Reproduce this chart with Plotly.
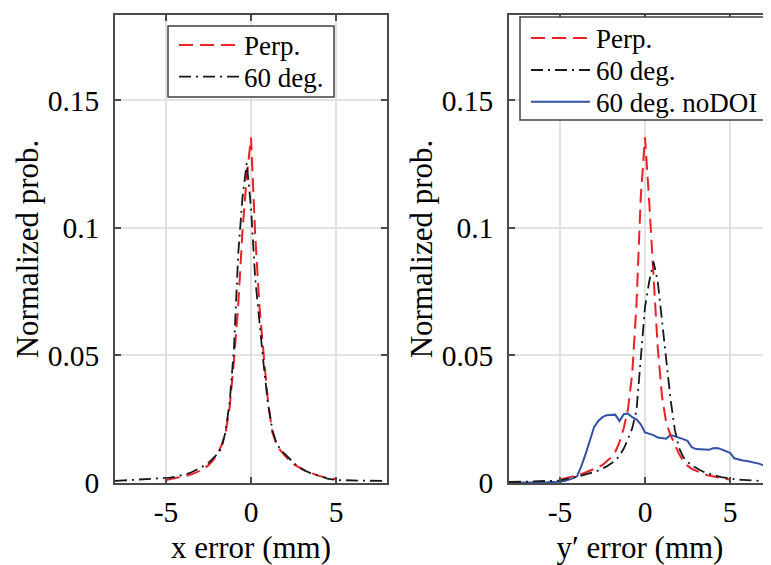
import plotly.graph_objects as go

# ---------------- data ----------------
X_FULL = [-8.0, -7.75, -7.5, -7.25, -7.0, -6.75, -6.5, -6.25, -6.0, -5.75, -5.5, -5.25,
          -5.0, -4.75, -4.5, -4.25, -4.0, -3.75, -3.5, -3.25, -3.0, -2.75, -2.5, -2.25,
          -2.0, -1.75, -1.5, -1.25, -1.0, -0.75, -0.5, -0.25, 0.0, 0.25, 0.5, 0.75,
          1.0, 1.25, 1.5, 1.75, 2.0, 2.25, 2.5, 2.75, 3.0, 3.25, 3.5, 3.75,
          4.0, 4.25, 4.5, 4.75, 5.0, 5.25, 5.5, 5.75, 6.0, 6.25, 6.5, 6.75,
          7.0, 7.25, 7.5, 7.75, 8.0]
X_PERP = [-5.0, -4.75, -4.5, -4.25, -4.0, -3.75, -3.5, -3.25, -3.0, -2.75, -2.5, -2.25,
          -2.0, -1.75, -1.5, -1.25, -1.0, -0.75, -0.5, -0.25, 0.0, 0.25, 0.5, 0.75,
          1.0, 1.25, 1.5, 1.75, 2.0, 2.25, 2.5, 2.75, 3.0, 3.25, 3.5, 3.75,
          4.0, 4.25, 4.5, 4.75, 5.0]

# Left panel: x error
PERP_X_ERR = [0.0012, 0.0015, 0.0018, 0.0021, 0.0025, 0.0029, 0.0034, 0.0040, 0.0048, 0.0057,
              0.0070, 0.0087, 0.0110, 0.0145, 0.0195, 0.0300, 0.0480, 0.0700, 0.0990, 0.1200,
              0.1355, 0.0970, 0.0690, 0.0500, 0.0320, 0.0200, 0.0152, 0.0126, 0.0106, 0.0088,
              0.0074, 0.0063, 0.0054, 0.0046, 0.0039, 0.0033, 0.0028, 0.0024, 0.0020, 0.0017,
              0.0015]
DEG60_X_ERR = [0.0008, 0.0009, 0.0009, 0.0010, 0.0010, 0.0011, 0.0012, 0.0013, 0.0014, 0.0015,
               0.0016, 0.0017, 0.0019, 0.0021, 0.0024, 0.0027, 0.0031, 0.0036, 0.0042, 0.0050,
               0.0058, 0.0068, 0.0079, 0.0094, 0.0112, 0.0135, 0.0200, 0.0320, 0.0530, 0.0900,
               0.1120, 0.1255, 0.1080, 0.0800, 0.0620, 0.0460, 0.0310, 0.0210, 0.0155, 0.0130,
               0.0113, 0.0095, 0.0080, 0.0065, 0.0055, 0.0046, 0.0039, 0.0033, 0.0027, 0.0021,
               0.0017, 0.0014, 0.0012, 0.0011, 0.0011, 0.0010, 0.0010, 0.0010, 0.0009, 0.0009,
               0.0009, 0.0008, 0.0008, 0.0008, 0.0008]

# Right panel: y' error
PERP_Y_ERR = [0.0013, 0.0017, 0.0021, 0.0025, 0.0030, 0.0035, 0.0041, 0.0047, 0.0054, 0.0062,
              0.0071, 0.0084, 0.0100, 0.0122, 0.0160, 0.0215, 0.0290, 0.0430, 0.0700, 0.1120,
              0.1355, 0.1100, 0.0830, 0.0530, 0.0340, 0.0235, 0.0188, 0.0150, 0.0115, 0.0086,
              0.0068, 0.0055, 0.0047, 0.0040, 0.0034, 0.0029, 0.0025, 0.0022, 0.0019, 0.0016,
              0.0014]
DEG60_Y_ERR = [0.0004, 0.0004, 0.0005, 0.0005, 0.0005, 0.0006, 0.0006, 0.0007, 0.0007, 0.0008,
               0.0008, 0.0009, 0.0010, 0.0013, 0.0016, 0.0020, 0.0025, 0.0029, 0.0033, 0.0038,
               0.0043, 0.0049, 0.0056, 0.0065, 0.0076, 0.0088, 0.0107, 0.0135, 0.0172, 0.0215,
               0.0285, 0.0490, 0.0690, 0.0790, 0.0868, 0.0790, 0.0640, 0.0480, 0.0330, 0.0210,
               0.0138, 0.0102, 0.0083, 0.0069, 0.0058, 0.0050, 0.0042, 0.0036, 0.0031, 0.0027,
               0.0023, 0.0020, 0.0017, 0.0015, 0.0013, 0.0012, 0.0011, 0.0010, 0.0009, 0.0008,
               0.0007, 0.0006, 0.0005, 0.0005, 0.0004]
NODOI_Y_ERR = [0.0001, 0.0001, 0.0001, 0.0001, 0.0002, 0.0002, 0.0002, 0.0002, 0.0003, 0.0003,
               0.0004, 0.0004, 0.0005, 0.0008, 0.0012, 0.0018, 0.0026, 0.0065, 0.0112, 0.0168,
               0.0218, 0.0243, 0.0258, 0.0266, 0.0267, 0.0268, 0.0243, 0.0270, 0.0272, 0.0258,
               0.0250, 0.0230, 0.0198, 0.0192, 0.0188, 0.0178, 0.0175, 0.0174, 0.0189, 0.0184,
               0.0180, 0.0172, 0.0165, 0.0140, 0.0133, 0.0132, 0.0131, 0.0130, 0.0136, 0.0137,
               0.0132, 0.0126, 0.0118, 0.0097, 0.0091, 0.0088, 0.0086, 0.0083, 0.0080, 0.0075,
               0.0068, 0.0058, 0.0050, 0.0042, 0.0035]

X_TICKS = [-5, 0, 5]
X_TICK_TEXT = ["-5", "0", "5"]
Y_TICKS = [0, 0.05, 0.1, 0.15]
Y_TICK_TEXT = ["0", "0.05", "0.1", "0.15"]

LEFT_LEGEND = ["Perp.", "60 deg."]
RIGHT_LEGEND = ["Perp.", "60 deg.", "60 deg. noDOI"]

# ---------------- style ----------------
PAGE_W, PAGE_H = 771, 565
OFF = 8                      # browser body margin
OFFX = 6                     # effective horizontal offset used for placement
W, H = PAGE_W - OFF, PAGE_H - OFF
MT, MB = 15 - OFF, PAGE_H - 483
PH = H - MT - MB
FONT = "Liberation Serif"
RED = "rgb(236,32,38)"
BLACK = "rgb(25,25,25)"
BLUE = "rgb(51,82,166)"
AX = "#4a4a4a"
GRID = "#e2e2e2"
RED_DASH = "14px,7px"
BLACK_DASH = "12px,5px,2px,5px"

STYLES = {
    "Perp.": dict(color=RED, width=2, dash=RED_DASH),
    "60 deg.": dict(color=BLACK, width=1.8, dash=BLACK_DASH),
    "60 deg. noDOI": dict(color=BLUE, width=2, dash="solid"),
}


def px(X):
    return (X - OFFX) / W


def py(Y):
    return (483 - Y) / PH


fig = go.Figure()
fig.add_trace(go.Scatter(x=X_PERP, y=PERP_X_ERR, mode="lines", line=STYLES["Perp."],
                         xaxis="x", yaxis="y", showlegend=False, name="Perp."))
fig.add_trace(go.Scatter(x=X_FULL, y=DEG60_X_ERR, mode="lines", line=STYLES["60 deg."],
                         xaxis="x", yaxis="y", showlegend=False, name="60 deg."))
fig.add_trace(go.Scatter(x=X_FULL, y=NODOI_Y_ERR, mode="lines", line=STYLES["60 deg. noDOI"],
                         xaxis="x2", yaxis="y2", showlegend=False, name="60 deg. noDOI"))
fig.add_trace(go.Scatter(x=X_PERP, y=PERP_Y_ERR, mode="lines", line=STYLES["Perp."],
                         xaxis="x2", yaxis="y2", showlegend=False, name="Perp."))
fig.add_trace(go.Scatter(x=X_FULL, y=DEG60_Y_ERR, mode="lines", line=STYLES["60 deg."],
                         xaxis="x2", yaxis="y2", showlegend=False, name="60 deg."))

tickfont = dict(family=FONT, size=29.5, color="black")
titlefont = dict(family=FONT, size=31, color="black")


def xax(domain, rng, title, anchor):
    return dict(anchor=anchor, domain=domain, range=rng, tickvals=X_TICKS, ticktext=X_TICK_TEXT,
                ticks="inside", ticklen=6, tickwidth=1.5, tickcolor=AX,
                showline=True, linecolor=AX, linewidth=1.5, mirror="ticks",
                showgrid=True, gridcolor=GRID, gridwidth=1.5, zeroline=False,
                tickfont=tickfont, ticklabelstandoff=2,
                title=dict(text=title, font=titlefont, standoff=10))


def yax(anchor, mirror):
    return dict(anchor=anchor, domain=[0, 1], range=[0, 0.1835], tickvals=Y_TICKS,
                ticktext=Y_TICK_TEXT, ticks="inside", ticklen=6, tickwidth=1.5,
                tickcolor=AX, showline=True, linecolor=AX, linewidth=1.5, mirror=mirror,
                showgrid=True, gridcolor=GRID, gridwidth=1.5, zeroline=False,
                tickfont=tickfont, ticklabelstandoff=8,
                title=dict(text="Normalized prob.", font=titlefont, standoff=0))


x2_left = 507
fig.update_layout(
    width=W, height=H, autosize=False,
    margin=dict(l=0, r=0, t=MT, b=MB),
    paper_bgcolor="white", plot_bgcolor="white",
    xaxis=xax([px(113), px(385)], [-8, 8], "x error (mm)", "y"),
    yaxis=yax("x", "ticks"),
    xaxis2=xax([px(x2_left), 1.0], [-8, -8 + (W + OFFX - x2_left) / 17], "y\u2032 error (mm)", "y2"),
    yaxis2=yax("x2", False),
    showlegend=False,
)


# ---------------- legends (box + sample lines + text) ----------------
def add_legend(box, rows, x_line, x_text, labels):
    x0, y0, x1, y1 = box
    fig.add_shape(type="rect", xref="paper", yref="paper",
                  x0=px(x0), x1=px(x1), y0=py(y1), y1=py(y0),
                  line=dict(color="#404040", width=1.5), fillcolor="white", layer="above")
    for Y, lab in zip(rows, labels):
        st = STYLES[lab]
        fig.add_shape(type="line", xref="paper", yref="paper",
                      x0=px(x_line[0]), x1=px(x_line[1]), y0=py(Y), y1=py(Y),
                      line=dict(color=st["color"], width=st["width"], dash=st["dash"]),
                      layer="above")
        fig.add_annotation(xref="paper", yref="paper", x=px(x_text), y=py(Y + 1),
                           text=lab, showarrow=False, xanchor="left", yanchor="middle",
                           font=dict(family=FONT, size=27, color="black"))


add_legend((166, 26, 332, 97), [45, 76.7], (177, 237), 240, LEFT_LEGEND)
add_legend((518, 17, 765, 120), [38, 70, 101.7], (529, 588), 592, RIGHT_LEGEND)

fig.write_html("out.html")
